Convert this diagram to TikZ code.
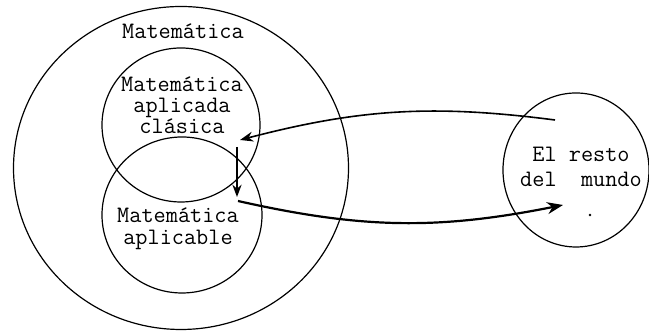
\documentclass[tikz,border=0pt]{standalone}
\usepackage{tikz}
\usetikzlibrary{arrows.meta,shapes.geometric}

\begin{document}
\begin{tikzpicture}[>=Stealth,x=0.5pt,y=0.5pt,
  ring/.style={draw,ellipse,inner sep=0pt,line width=0.6pt},
  txt/.style={align=center,inner sep=0pt,font={\fontsize{11.8}{10.6}\selectfont\ttfamily}}]
  \useasboundingbox (0,0) rectangle (649,335);
  \node[ring,minimum width=167.5pt,minimum height=161.5pt] (mat) at (181,167) {};
  \node[ring,minimum width=79pt,minimum height=77pt] (clasica) at (181,210) {};
  \node[ring,minimum width=80pt,minimum height=78pt] (aplicable) at (182,120) {};
  \node[ring,minimum width=73pt,minimum height=77pt] (resto) at (576,165) {};
  \node[txt] (matlbl) at (183,304) {Matemática};
  \node[txt] (clasicalbl) at (182,230) {Matemática\\aplicada\\clásica};
  \node[txt,font={\fontsize{11.8}{11}\selectfont\ttfamily}] (aplicablelbl) at (178,106) {Matemática\\aplicable};
  \node[txt,font={\fontsize{11.8}{12.5}\selectfont\ttfamily}] (restolbl) at (581,168) {El resto\\del\ \ mundo};
  \fill (590,120) circle (0.7pt);
  % arrow ends
  \coordinate (restoOut) at (555,215);
  \coordinate (clasicaIn) at (240,195);
  \coordinate (clasicaOut) at (237,188);
  \coordinate (aplicableIn) at (237,138);
  \coordinate (aplicableOut) at (238,134);
  \coordinate (restoIn) at (563,130);
  \draw[->,line width=0.8pt] (restoOut) to[bend right=11] (clasicaIn);
  \draw[->,line width=0.7pt] (clasicaOut) -- (aplicableIn);
  \draw[->,line width=1.1pt] (aplicableOut) to[bend right=12] (restoIn);
\end{tikzpicture}
\end{document}
